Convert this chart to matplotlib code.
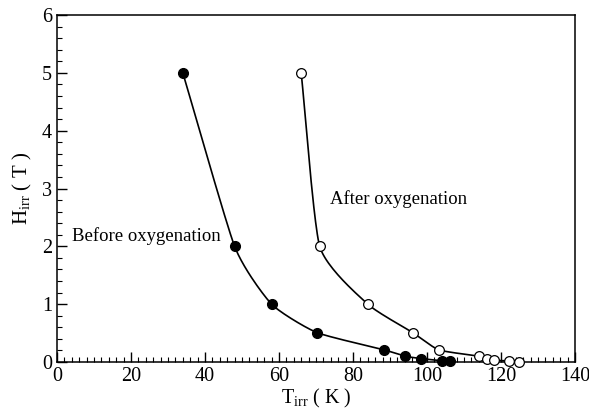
import numpy as np
import matplotlib
matplotlib.use("Agg")
import matplotlib.pyplot as plt
from matplotlib.ticker import MultipleLocator

plt.rcParams["font.family"] = "Liberation Serif"
plt.rcParams["mathtext.fontset"] = "custom"
plt.rcParams["mathtext.rm"] = "Liberation Serif"

# before oxygenation (filled)
T_before = [34, 48, 58, 70.2, 88.4, 94.1, 98.3, 104.1, 106.2]
H_before = [5.0, 2.0, 1.0, 0.51, 0.21, 0.10, 0.06, 0.02, 0.01]
# after oxygenation (open)
T_after = [66, 71, 84, 96.1, 103.2, 114.1, 116.1, 118.2, 122.1, 124.9]
H_after = [5.0, 2.0, 1.0, 0.51, 0.21, 0.10, 0.06, 0.03, 0.02, 0.005]

SX, SY = 518 / 140, 347 / 6   # data -> screen px, so the spline is drawn in display space


def smooth(x, y, n=25, tension=0.45):
    # cardinal spline through the measured points (hand-drawn look, little overshoot)
    p = np.column_stack([np.asarray(x) * SX, np.asarray(y) * SY])
    q = np.vstack([2 * p[0] - p[1], p, 2 * p[-1] - p[-2]])
    m = (1 - tension) * (q[2:] - q[:-2]) / 2
    t = np.linspace(0, 1, n)[:, None]
    h00 = 2 * t**3 - 3 * t**2 + 1; h10 = t**3 - 2 * t**2 + t
    h01 = -2 * t**3 + 3 * t**2;    h11 = t**3 - t**2
    out = [h00 * p[i] + h10 * m[i] + h01 * p[i + 1] + h11 * m[i + 1] for i in range(len(p) - 1)]
    s = np.vstack(out)
    return s[:, 0] / SX, np.clip(s[:, 1] / SY, 0, None)


fig = plt.figure(figsize=(5.89, 4.11), dpi=100)
ax = fig.add_axes([57 / 589, 1 - 362 / 411, 518 / 589, 347 / 411])

xb, yb = smooth(T_before, H_before)
xa, ya = smooth(T_after, H_after)
ax.plot(xb, yb, color="k", lw=1.2)
ax.plot(xa, ya, color="k", lw=1.2)
ax.plot(T_before, H_before, "o", color="k", ms=7, clip_on=False, zorder=3)
ax.plot(T_after, H_after, "o", mfc="white", mec="k", mew=0.9, ms=7, clip_on=False, zorder=3)

ax.text(4.0, 2.18, "Before oxygenation", fontsize=13.5, va="center", ha="left")
ax.text(73.8, 2.82, "After oxygenation", fontsize=13.5, va="center", ha="left")

ax.set_xlim(0, 140); ax.set_ylim(0, 6)
ax.xaxis.set_major_locator(MultipleLocator(20)); ax.xaxis.set_minor_locator(MultipleLocator(2))
ax.yaxis.set_major_locator(MultipleLocator(1)); ax.yaxis.set_minor_locator(MultipleLocator(0.2))
ax.tick_params(which="both", direction="in", top=False, right=False, labelsize=14.5)
ax.tick_params(which="major", length=7, width=1)
ax.tick_params(which="minor", length=3.5, width=0.8)
for s in ax.spines.values():
    s.set_linewidth(1.1)

ax.set_xlabel(r"T$_{\rm irr}$ ( K )", fontsize=14.5, labelpad=1)
ax.set_ylabel(r"H$_{\rm irr}$ ( T )", fontsize=15, labelpad=6)

fig.savefig("out.png", dpi=100)
